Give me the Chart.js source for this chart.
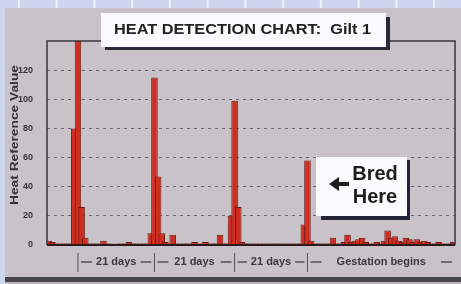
<!DOCTYPE html>
<html>
<head>
<meta charset="utf-8">
<script src="https://cdn.jsdelivr.net/npm/chart.js@4.4.0/dist/chart.umd.min.js"></script>
<style>
  html, body { margin: 0; padding: 0; }
  body {
    width: 461px; height: 284px; overflow: hidden; position: relative;
    background-color: #cdd6ee;
    background-image: linear-gradient(90deg, transparent 18px, #eef2fb 18px, #eef2fb 20px, transparent 20px);
    background-size: 37.75px 100%;
  }
  .photo {
    position: absolute; left: 5px; top: 8px; width: 456px; height: 276px;
    background: #bdb8bf;
  }
  .photo canvas { display: block; background: #c9c3c9; }
  .band { height: 5px; background: #47444c; }
</style>
</head>
<body>
<div class="photo">
  <canvas id="heatChart" width="456" height="269"></canvas>
  <div class="band"></div>
</div>
<script>
// Heat detection readings, one per day
const heatValues = [
    3, 2, 1, 1, 1, 1, 1, 80, 140, 26,
    5, 1, 1, 1, 1, 3, 1, 1, 0.5, 1,
    1, 1, 2, 1, 1, 1, 1, 1, 8, 115,
    47, 8, 2, 1, 7, 1, 1, 1, 1, 1,
    2, 1, 1, 2, 1, 1, 1, 7, 1, 1,
    20, 99, 26, 2, 1, 1, 1, 1, 1, 1,
    1, 1, 1, 1, 1, 1, 1, 1, 1, 1,
    14, 58, 3, 1, 1, 1, 1, 1, 5, 1,
    1, 2, 7, 2, 3, 4, 5, 2, 1, 1,
    2, 1, 3, 10, 5, 6, 3, 2, 5, 4,
    2, 4, 2, 3, 2, 1, 1, 2, 1, 1,
    1, 2
];
const dayLabels = heatValues.map((v, i) => 'Day ' + (i + 1));

// days where heat was detected (cycle markers)
const heatDays = [8, 29, 51, 71];
const spanLabels = ['21 days', '21 days', '21 days', 'Gestation begins'];

const yTicks = [0, 20, 40, 60, 80, 100, 120];
const chartTitle = 'HEAT DETECTION CHART:  Gilt 1';
const yTitle = 'Heat Reference Value';
const noteLines = ['Bred', 'Here'];

// draws frame, title box, note box and the cycle ruler under the axis
const decorPlugin = {
    id: 'decor',
    afterDraw(chart) {
        const ctx = chart.ctx;
        const area = chart.chartArea;
        const xs = chart.scales.x;
        ctx.save();

        // plot frame
        ctx.strokeStyle = '#3a3540';
        ctx.lineWidth = 1.5;
        ctx.beginPath();
        ctx.moveTo(area.left, area.bottom);
        ctx.lineTo(area.left, area.top);
        ctx.lineTo(area.right, area.top);
        ctx.lineTo(area.right, area.bottom);
        ctx.stroke();
        ctx.strokeStyle = '#2a1c1c';
        ctx.lineWidth = 2;
        ctx.beginPath();
        ctx.moveTo(area.left, area.bottom);
        ctx.lineTo(area.right, area.bottom);
        ctx.stroke();

        // y axis title
        ctx.save();
        ctx.translate(10, 127);
        ctx.rotate(-Math.PI / 2);
        ctx.font = 'bold 11px "Liberation Sans", Arial, sans-serif';
        ctx.fillStyle = '#333';
        ctx.textAlign = 'center';
        ctx.textBaseline = 'middle';
        const ty = ctx.measureText(yTitle).width;
        ctx.scale(140 / ty, 1);
        ctx.fillText(yTitle, 0, 0);
        ctx.restore();

        // title box
        ctx.fillStyle = '#2a2a3a';
        ctx.fillRect(100, 9, 285, 33);
        ctx.fillStyle = '#fbfafc';
        ctx.fillRect(96, 5, 285, 34);
        ctx.save();
        ctx.translate(237.5, 22);
        ctx.font = 'bold 15px "Liberation Sans", Arial, sans-serif';
        ctx.fillStyle = '#222';
        ctx.textAlign = 'center';
        ctx.textBaseline = 'middle';
        const tw = ctx.measureText(chartTitle).width;
        ctx.scale(257 / tw, 1);
        ctx.fillText(chartTitle, 0, 0);
        ctx.restore();

        // "Bred Here" note
        ctx.fillStyle = '#24243a';
        ctx.fillRect(316, 152, 89, 60);
        ctx.fillStyle = '#fbfafc';
        ctx.fillRect(311, 149, 91, 59);
        ctx.fillStyle = '#1e1e1e';
        ctx.font = 'bold 20px "Liberation Sans", Arial, sans-serif';
        ctx.textAlign = 'center';
        ctx.textBaseline = 'middle';
        ctx.fillText(noteLines[0], 370, 166);
        ctx.fillText(noteLines[1], 370, 189);
        ctx.strokeStyle = '#1e1e1e';
        ctx.lineWidth = 4;
        ctx.beginPath();
        ctx.moveTo(332, 176);
        ctx.lineTo(344, 176);
        ctx.stroke();
        ctx.beginPath();
        ctx.moveTo(324, 176);
        ctx.lineTo(334, 169);
        ctx.lineTo(334, 183);
        ctx.closePath();
        ctx.fill();

        // cycle ruler
        const marks = heatDays.map(d => xs.getPixelForValue(d));
        const ends = marks.concat([area.right]);
        ctx.strokeStyle = '#55505a';
        ctx.lineWidth = 1;
        marks.forEach(x => {
            ctx.beginPath();
            ctx.moveTo(x, 245);
            ctx.lineTo(x, 264);
            ctx.stroke();
        });
        ctx.font = 'bold 11px "Liberation Sans", Arial, sans-serif';
        ctx.fillStyle = '#3a3a3a';
        ctx.textBaseline = 'middle';
        ctx.textAlign = 'center';
        ctx.lineWidth = 1.3;
        const ry = 254;
        spanLabels.forEach((label, i) => {
            const a = ends[i], b = ends[i + 1];
            const mid = (a + b) / 2;
            const w = ctx.measureText(label).width;
            ctx.fillText(label, mid, ry);
            ctx.beginPath();
            ctx.moveTo(a + 3, ry);
            ctx.lineTo(Math.min(mid - w / 2 - 4, a + 14), ry);
            ctx.moveTo(Math.max(mid + w / 2 + 4, b - 14), ry);
            ctx.lineTo(b - 3, ry);
            ctx.stroke();
        });

        ctx.restore();
    }
};

new Chart(document.getElementById('heatChart'), {
    type: 'bar',
    data: {
        labels: dayLabels,
        datasets: [{
            data: heatValues,
            backgroundColor: '#cf2d1e',
            borderColor: '#6a1a12',
            borderWidth: 1,
            categoryPercentage: 1,
            barPercentage: 1.8
        }]
    },
    options: {
        responsive: false,
        animation: false,
        layout: { padding: { top: 33, right: 6, bottom: 32, left: 0 } },
        plugins: {
            legend: { display: false },
            tooltip: { enabled: false }
        },
        scales: {
            x: { display: false },
            y: {
                min: 0,
                max: 140,
                afterFit(scale) { scale.width = 42; },
                afterBuildTicks(scale) {
                    scale.ticks = yTicks.concat([140]).map(v => ({ value: v }));
                },
                border: { display: false, dash: [3, 4] },
                grid: {
                    drawTicks: false,
                    color: c => (c.tick.value === 0 || c.tick.value === 140) ? 'rgba(0,0,0,0)' : 'rgba(70,60,80,0.7)'
                },
                ticks: {
                    padding: 14,
                    color: '#333',
                    font: { size: 9, weight: 'bold', family: '"Liberation Sans", Arial, sans-serif' },
                    callback: v => yTicks.includes(v) ? v : ''
                }
            }
        }
    },
    plugins: [decorPlugin]
});
</script>
</body>
</html>
